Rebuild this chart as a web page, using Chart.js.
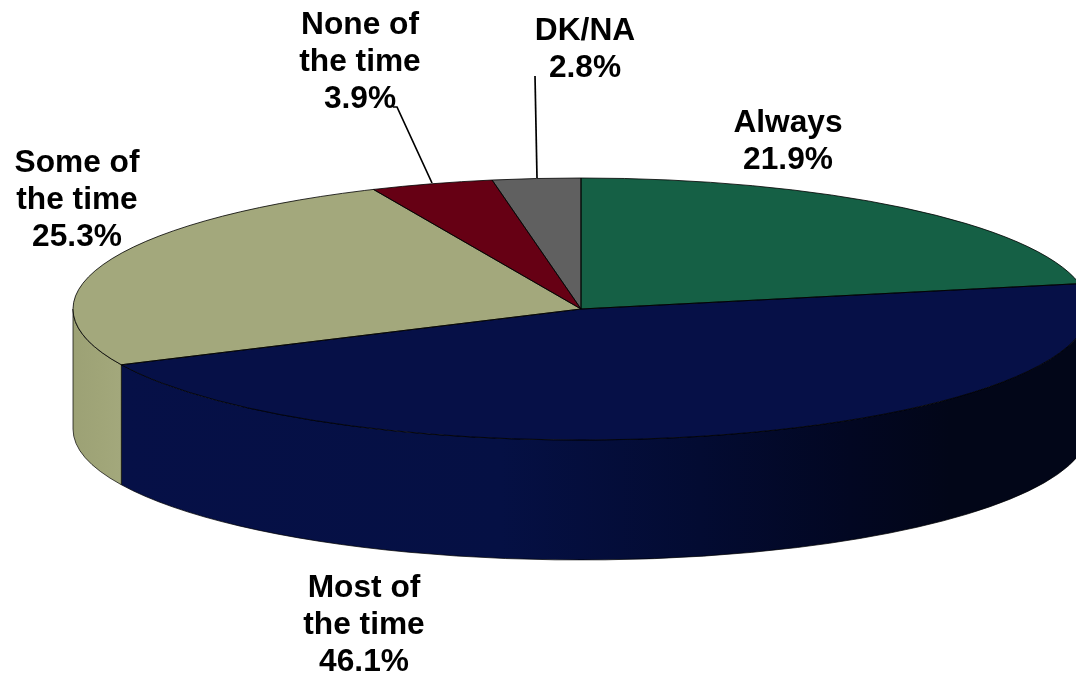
<!DOCTYPE html>
<html>
<head>
<meta charset="utf-8">
<style>
html,body{margin:0;padding:0;background:#fff;overflow:hidden}
canvas{display:block}
</style>
<script src="https://cdn.jsdelivr.net/npm/chart.js@4/dist/chart.umd.min.js"></script>
</head>
<body>
<canvas id="c" width="1076" height="674"></canvas>
<script>
const categories = [["Always"],["Most of","the time"],["Some of","the time"],["None of","the time"],["DK/NA"]];
const values = [21.9,46.1,25.3,3.9,2.8];
const colors = ["#156045","#061047","#A3A87C","#660014","#606060"];

// Layout of the tilted disc
const CX = 581, CY = 309, RX = 508, RY = 131, DEPTH = 120;
const FONT = 'bold 31.7px "Liberation Sans", Arial, sans-serif';
const LINE_H = 37;
const labelCenters = [[788,123.5],[364,588.5],[77,163.5],[360,25.5],[585,31.5]];
const leaders = [null,null,null,[[393,107],[397,107],[432,183]],[[535,76],[537,178]]];
const wallStops = [
  null,
  [[121,"#061047"],[500,"#051044"],[700,"#030B32"],[850,"#020722"],[950,"#020618"],[1076,"#020618"]],
  [[73,"#9CA175"],[100,"#A0A578"],[121,"#A3A87C"]],
  null,null
];

const tiltPlugin = {
  id:'tilt',
  beforeDatasetDraw(chart){
    const arcs = chart.getDatasetMeta(0).data, a0 = arcs[0], ctx = chart.ctx;
    const r = a0.outerRadius;
    // side wall, from the library's computed arc angles
    arcs.forEach((a,i)=>{
      const s = Math.max(a.startAngle,0), e = Math.min(a.endAngle,Math.PI);
      if(e<=s) return;
      ctx.save();
      ctx.beginPath();
      ctx.ellipse(CX,CY,RX,RY,0,s,e,false);
      ctx.ellipse(CX,CY+DEPTH,RX,RY,0,e,s,true);
      ctx.closePath();
      const g = ctx.createLinearGradient(CX-RX,0,CX+RX,0);
      (wallStops[i]||[[CX-RX,colors[i]],[CX+RX,colors[i]]]).forEach(st=>{
        g.addColorStop(Math.min(1,Math.max(0,(st[0]-(CX-RX))/(2*RX))),st[1]);
      });
      ctx.fillStyle = g;
      ctx.fill();
      ctx.strokeStyle = 'rgba(0,0,0,0.7)';
      ctx.lineWidth = 1;
      ctx.stroke();
      ctx.restore();
    });
    ctx.save();
    ctx.translate(CX,CY);
    ctx.scale(RX/r,RY/r);
    ctx.translate(-a0.x,-a0.y);
  },
  afterDatasetDraw(chart){
    const ctx = chart.ctx;
    ctx.restore();
    const arcs = chart.getDatasetMeta(0).data;
    ctx.save();
    ctx.lineWidth = 1;
    ctx.strokeStyle = 'rgba(0,0,0,0.8)';
    arcs.forEach(a=>{
      ctx.beginPath();
      ctx.moveTo(CX,CY);
      ctx.ellipse(CX,CY,RX,RY,0,a.startAngle,a.endAngle,false);
      ctx.closePath();
      ctx.stroke();
    });
    ctx.restore();
  },
  afterDraw(chart){
    const ctx = chart.ctx;
    ctx.save();
    ctx.strokeStyle = '#000';
    ctx.lineWidth = 1.7;
    leaders.forEach(l=>{
      if(!l) return;
      ctx.beginPath();
      l.forEach((p,i)=> i ? ctx.lineTo(p[0],p[1]) : ctx.moveTo(p[0],p[1]));
      ctx.stroke();
    });
    ctx.fillStyle = '#000';
    ctx.font = FONT;
    ctx.textAlign = 'center';
    ctx.textBaseline = 'middle';
    categories.forEach((lines,i)=>{
      const all = lines.concat(values[i].toFixed(1)+'%');
      all.forEach((t,k)=> ctx.fillText(t,labelCenters[i][0],labelCenters[i][1]+k*LINE_H));
    });
    ctx.restore();
  }
};

new Chart(document.getElementById('c'),{
  type:'pie',
  data:{
    labels:categories.map(l=>l.join(' ')),
    datasets:[{data:values,backgroundColor:colors,borderWidth:0,clip:false}]
  },
  options:{
    responsive:false,
    animation:false,
    layout:{padding:0},
    plugins:{legend:{display:false},tooltip:{enabled:false}},
    events:[]
  },
  plugins:[tiltPlugin]
});
</script>
</body>
</html>
